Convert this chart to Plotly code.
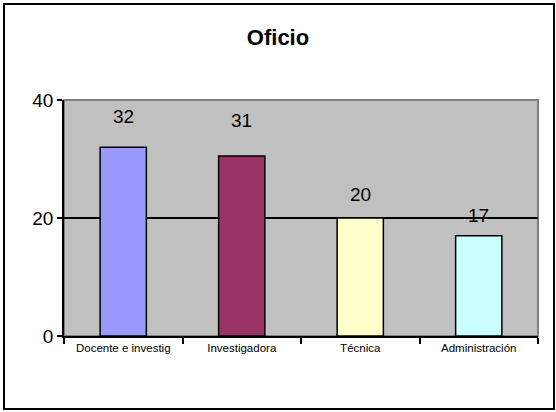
import plotly.graph_objects as go

categories = ["Docente e investig", "Investigadora", "Técnica", "Administración"]
values = [32, 30.5, 20, 17]
value_labels = ["32", "31", "20", "17"]
bar_colors = ["#9999FF", "#993366", "#FFFFCC", "#CCFFFF"]
y_ticks = [0, 20, 40]

label_shifts = [31, 36, 24, 20]

FONT = "Liberation Sans, Arial, sans-serif"

fig = go.Figure()
fig.add_trace(go.Bar(
    x=categories,
    y=values,
    marker=dict(color=bar_colors, line=dict(color="black", width=1.5)),
    width=0.39,
    hoverinfo="skip",
))

for cat, val, lab, sh in zip(categories, values, value_labels, label_shifts):
    fig.add_annotation(
        x=cat, y=val, text=lab, showarrow=False,
        xref="x", yref="y", yanchor="middle", yshift=sh,
        font=dict(family=FONT, size=19, color="black"),
    )

fig.update_layout(
    width=556, height=412,
    margin=dict(l=64, r=18, t=100, b=76),
    paper_bgcolor="white",
    plot_bgcolor="#C0C0C0",
    showlegend=False,
    modebar=dict(bgcolor="rgba(0,0,0,0)", color="rgba(0,0,0,0)",
                 activecolor="rgba(0,0,0,0)"),
    title=dict(text="<b>Oficio</b>", x=0.5, xanchor="center", y=1 - 37 / 412,
               yanchor="middle", font=dict(family=FONT, size=22, color="black")),
    xaxis=dict(
        type="category",
        tickson="boundaries",
        ticks="outside", ticklen=6, tickcolor="black", tickwidth=1.5,
        showline=True, linecolor="black", linewidth=1.5,
        showgrid=False,
        tickfont=dict(family=FONT, size=11.5, color="black"),
        fixedrange=True,
    ),
    yaxis=dict(
        range=[0, 40],
        tickvals=y_ticks,
        ticks="outside", ticklen=5, tickcolor="black", tickwidth=1.5,
        showline=True, linecolor="black", linewidth=1.5,
        showgrid=True, gridcolor="black", gridwidth=1.5,
        zeroline=False,
        tickfont=dict(family=FONT, size=19, color="black"),
        fixedrange=True,
    ),
)

# plot-area border (gray)
fig.add_shape(type="rect", xref="paper", yref="paper", x0=0, x1=1, y0=0, y1=1,
              line=dict(color="#808080", width=2), layer="below")
# outer chart border
fig.add_shape(type="rect", xref="paper", yref="paper",
              x0=-0.1266, x1=1.0338, y0=-0.309, y1=1.4068,
              line=dict(color="black", width=2))

fig.write_html("out.html", config={"displaylogo": False},
               post_script="document.body.style.margin='0';")
